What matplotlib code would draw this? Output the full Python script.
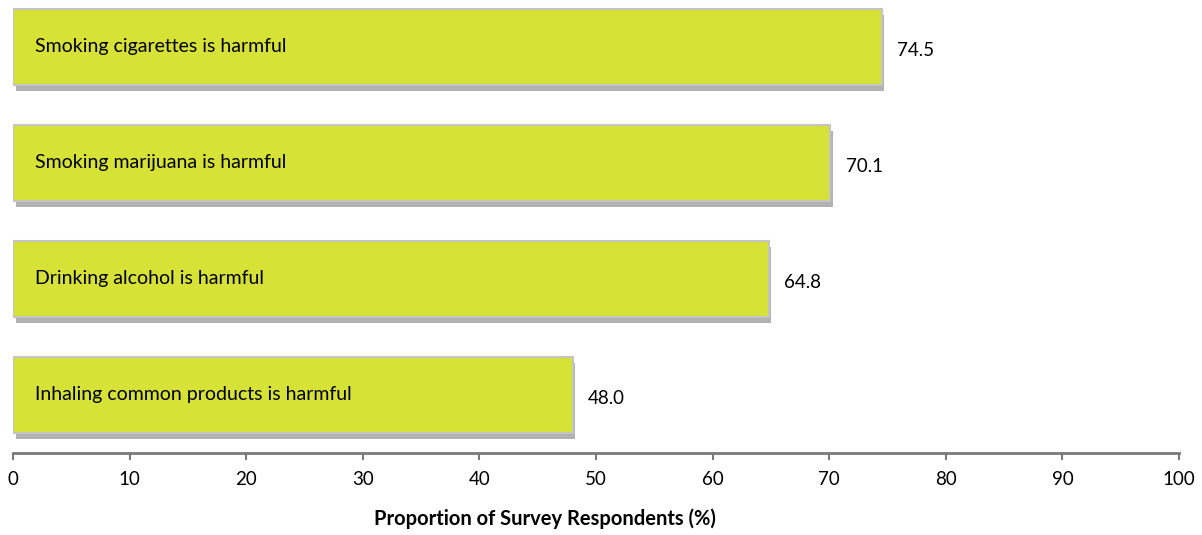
import matplotlib
matplotlib.use("Agg")
import matplotlib.pyplot as plt
import matplotlib.patheffects as pe

categories = [
    "Smoking cigarettes is harmful",
    "Smoking marijuana is harmful",
    "Drinking alcohol is harmful",
    "Inhaling common products is harmful",
]
values = [74.5, 70.1, 64.8, 48.0]
xticks = [0, 10, 20, 30, 40, 50, 60, 70, 80, 90, 100]

plt.rcParams["font.family"] = ["Lato", "DejaVu Sans"]

fig = plt.figure(figsize=(12.02, 5.35), dpi=100)
ax = fig.add_axes([13 / 1202, 82 / 535, 1166 / 1202, 453 / 535])

pos = list(range(len(categories)))
bars = ax.barh(pos, values, height=0.655, color="#d6e236",
               edgecolor="#c4c4c4", linewidth=1.5, zorder=3)
for b in bars:
    b.set_path_effects([
        pe.SimplePatchShadow(offset=(2, -4), shadow_rgbFace="#555555", alpha=0.45),
        pe.Normal(),
    ])

for i, (cat, v) in enumerate(zip(categories, values)):
    ax.text(1.9, i, cat, va="center", ha="left", fontsize=14, color="black", zorder=4)
    ax.text(v + 1.3, i + 0.03, f"{v:.1f}", va="center", ha="left", fontsize=13.5, color="black")

ax.set_xlim(0, 100)
ax.set_ylim(3.5, -0.405)
ax.set_xticks(xticks)
ax.set_xticklabels([str(t) for t in xticks], fontsize=13.5)
ax.set_yticks([])
for s in ("top", "right", "left"):
    ax.spines[s].set_visible(False)
ax.spines["bottom"].set_color("#7a7a7a")
ax.spines["bottom"].set_linewidth(2)
ax.tick_params(axis="x", direction="out", length=5, width=1.5, color="#7a7a7a", pad=8)

ax.set_xlabel("Proportion of Survey Respondents (%)", fontsize=14.5, fontweight="bold")
ax.xaxis.set_label_coords(0.456, -0.122)

fig.savefig("out.png", dpi=100)
